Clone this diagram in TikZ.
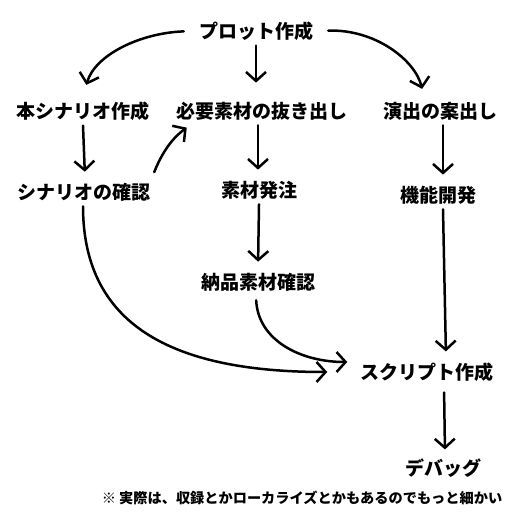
\documentclass[tikz,border=0pt]{standalone}
\usepackage{fontspec}
\newfontfamily\jp{Noto Sans CJK JP}
\usetikzlibrary{arrows.meta}
\begin{document}
\begin{tikzpicture}[x=0.5pt, y=-0.5pt,
            color=black, line width=1.25pt, line cap=round,
            >={Straight Barb[length=4.5pt,width=10pt,line width=1.25pt]},
            task/.style={font=\jp\bfseries\fontsize{9.5pt}{11pt}\selectfont, inner sep=2pt},
            flow/.style={->, shorten >=3pt}
        ]
            \useasboundingbox (0,0) rectangle (512,512);

            % tasks
            \node[task] (plot)   at (256,31)  {プロット作成};
            \node[task] (hon)    at (83,111)  {本シナリオ作成};
            \node[task] (need)   at (262,111) {必要素材の抜き出し};
            \node[task] (ensyu)  at (440,111) {演出の案出し};
            \node[task] (check)  at (84,192)  {シナリオの確認};
            \node[task] (order)  at (259,190) {素材発注};
            \node[task] (kinou)  at (438,195) {機能開発};
            \node[task] (nohin)  at (258,282) {納品素材確認};
            \node[task] (script) at (427,372) {スクリプト作成};
            \node[task] (debug)  at (443,468) {デバッグ};

            \node[font=\jp\bfseries\fontsize{7.1pt}{8pt}\selectfont, inner sep=0pt] (note) at (302,498)
                {※ 実際は、収録とかローカライズとかもあるのでもっと細かい};

            % from plot
            \draw[->, shorten <=5pt, shorten >=6pt] (plot.west) .. controls (140,33) and (95,55) .. (hon.north);
            \draw[->, shorten >=7pt] (plot.south) -- ([xshift=-3pt]need.north);
            \draw[->, shorten <=5pt, shorten >=4pt] (plot.east) .. controls (375,29) and (415,60) .. ([xshift=-8pt]ensyu.north);

            % second row
            \draw[flow] (hon.south) -- ([xshift=0.5pt]check.north);
            \draw[flow] ([xshift=-2pt]need.south) -- ([xshift=-0.5pt]order.north);
            \draw[flow] ([xshift=1.5pt]ensyu.south) -- ([xshift=2.5pt]kinou.north);
            \draw[->, shorten <=3pt, shorten >=2pt] ([xshift=34pt]check.north) .. controls (165,145) and (178,134) .. ([xshift=-36pt]need.south);

            % into script
            \draw[flow] (order.south) -- (nohin.north);
            \draw[flow] ([xshift=2.5pt]kinou.south) -- ([xshift=9.5pt]script.north);
            \draw[->, shorten >=14pt] ([xshift=-0.5pt]check.south) .. controls (83,330) and (180,372) .. (script.west);
            \draw[->, shorten <=2pt, shorten >=4pt] ([xshift=-1pt]nohin.south) .. controls (258,340) and (300,362) .. ([yshift=5pt]script.west);
            \draw[->, shorten <=3pt, shorten >=2pt] ([xshift=8.5pt]script.south) -- ([xshift=1pt]debug.north);
        \end{tikzpicture}
\end{document}
